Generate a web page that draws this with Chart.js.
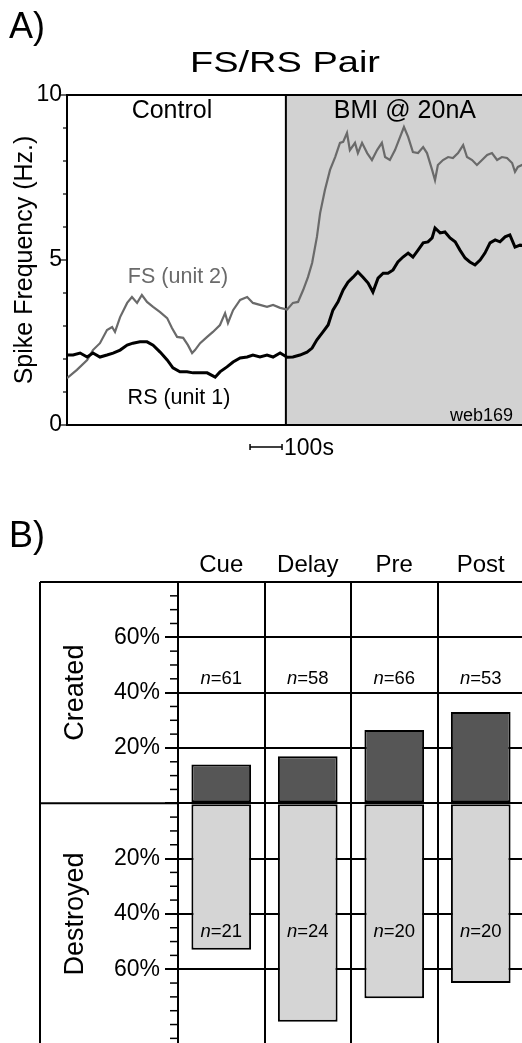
<!DOCTYPE html>
<html>
<head>
<meta charset="utf-8">
<script src="https://cdn.jsdelivr.net/npm/chart.js@4.4.1/dist/chart.umd.min.js"></script>
<style>
  html, body { margin:0; padding:0; background:#fff; width:522px; height:1043px; overflow:hidden; }
  canvas { position:absolute; left:0; }
  #c1 { top:0; }
  #c2 { top:500px; }
</style>
</head>
<body>
<canvas id="c1" width="540" height="470"></canvas>
<canvas id="c2" width="540" height="571"></canvas>
<script>
// ---------------- Panel A data ----------------
const bmiStart = 684;          // s, start of BMI application
const xMax = 1450;             // s
const yMaxHz = 10;
const yTickHz = [0, 5, 10];
const scaleBarStart = 572;     // s
const scaleBarLen = 100;       // s

const fsTime = [0,31,63,81,103,125,141,150,166,188,203,219,234,250,269,291,313,328,344,363,378,391,400,416,438,456,478,494,503,519,541,563,581,603,625,644,666,688,
  706,722,738,753,766,781,791,806,822,838,853,863,875,884,900,909,922,938,953,969,984,994,1009,1025,1041,1053,1066,1081,1097,1113,1125,1141,1150,1159,1175,1191,1206,1222,1238,1250,1266,1281,1297,1313,1328,1344,1359,1375,1391,1400,1409,1422,1450];
const fsHz = [1.42,1.67,1.97,2.27,2.48,2.88,2.97,2.82,3.27,3.70,3.88,3.70,3.94,3.73,3.58,3.42,3.24,2.94,2.67,2.64,2.42,2.18,2.27,2.48,2.67,2.82,3.03,3.39,3.09,3.48,3.79,3.88,3.70,3.64,3.58,3.64,3.55,3.50,
  3.70,3.73,4.09,4.48,4.91,5.70,6.42,7.12,7.73,8.12,8.55,8.58,8.85,8.33,8.55,8.24,8.55,8.24,8.03,8.33,8.55,8.12,8.03,8.33,8.73,9.03,8.73,8.27,8.24,8.42,8.24,7.73,7.42,7.88,8.03,8.12,8.09,8.24,8.48,8.12,8.03,7.88,8.03,8.18,8.24,8.03,8.12,8.09,7.94,7.67,7.82,7.88,7.80];

const rsTime = [0,19,41,63,81,103,125,144,166,188,206,228,250,269,291,313,331,353,375,394,416,438,463,478,500,519,541,563,581,603,625,644,666,688,
  706,728,750,766,781,800,816,831,847,863,878,894,909,925,941,956,972,988,1003,1019,1034,1050,1066,1081,1097,1113,1128,1141,1150,1166,1181,1197,1213,1228,1244,1259,1275,1291,1306,1322,1338,1353,1369,1384,1400,1416,1450];
const rsHz = [2.12,2.12,2.18,2.06,2.18,2.06,2.12,2.18,2.27,2.42,2.48,2.52,2.52,2.42,2.21,1.97,1.73,1.61,1.61,1.58,1.58,1.58,1.45,1.61,1.76,1.91,2.03,2.06,2.12,2.06,2.12,2.06,2.18,2.05,
  2.06,2.12,2.21,2.33,2.58,2.82,3.03,3.48,3.73,4.09,4.33,4.48,4.64,4.48,4.30,4.03,4.45,4.60,4.60,4.70,4.94,5.09,5.21,5.09,5.30,5.52,5.55,5.67,5.97,5.82,5.85,5.67,5.55,5.30,5.06,4.94,4.85,5.00,5.21,5.52,5.61,5.55,5.70,5.76,5.39,5.45,5.40];

// ---------------- Panel B data ----------------
const phases = ['Cue', 'Delay', 'Pre', 'Post'];
const createdPct = [14, 17, 26.5, 33];
const destroyedPct = [53, 79, 70.5, 65];
const createdN = [61, 58, 66, 53];
const destroyedN = [21, 24, 20, 20];
const pctTicks = [-60, -40, -20, 0, 20, 40, 60];

const FAM = '"Liberation Sans", Arial, Helvetica, sans-serif';

function txt(ctx, s, x, y, size, o = {}) {
  ctx.save();
  ctx.font = (o.italic ? 'italic ' : '') + size + 'px ' + FAM;
  ctx.fillStyle = o.color || '#000';
  ctx.textAlign = o.align || 'center';
  ctx.textBaseline = o.baseline || 'alphabetic';
  ctx.translate(x, y);
  if (o.rot) ctx.rotate(o.rot);
  if (o.sx) ctx.scale(o.sx, 1);
  ctx.fillText(s, 0, 0);
  ctx.restore();
}
function line(ctx, x1, y1, x2, y2, w, c) {
  ctx.save();
  ctx.beginPath();
  ctx.moveTo(x1, y1); ctx.lineTo(x2, y2);
  ctx.lineWidth = w; ctx.strokeStyle = c || '#000';
  ctx.stroke();
  ctx.restore();
}

// ---------------- Panel A chart ----------------
const panelA = {
  id: 'panelA',
  afterDraw(chart) {
    const ctx = chart.ctx, a = chart.chartArea;
    const xs = chart.scales.x, ys = chart.scales.y;
    line(ctx, a.left - 1, a.top, a.right, a.top, 2);
    line(ctx, a.left - 1, a.bottom, a.right, a.bottom, 2);
    for (let v = 0; v <= yMaxHz; v++) {
      const y = ys.getPixelForValue(v);
      const len = v % 5 === 0 ? 7 : 4;
      line(ctx, a.left - len, y, a.left, y, 1.2);
    }
    txt(ctx, 'A)', 9, 38, 36, { align: 'left' });
    txt(ctx, 'FS/RS Pair', 285, 72, 29, { sx: 1.31 });
    txt(ctx, 'Control', xs.getPixelForValue(328), ys.getPixelForValue(9.3), 25);
    txt(ctx, 'BMI @ 20nA', xs.getPixelForValue(1056), ys.getPixelForValue(9.3), 25);
    txt(ctx, 'FS (unit 2)', xs.getPixelForValue(347), ys.getPixelForValue(4.3), 21.5, { color: '#6a6a6a' });
    txt(ctx, 'RS (unit 1)', xs.getPixelForValue(350), ys.getPixelForValue(0.64), 21.5);
    txt(ctx, 'web169', xs.getPixelForValue(1394), ys.getPixelForValue(0.12), 18, { align: 'right' });
    const x1 = xs.getPixelForValue(scaleBarStart), x2 = xs.getPixelForValue(scaleBarStart + scaleBarLen);
    const yb = a.bottom + 22;
    line(ctx, x1, yb, x2, yb, 1.5);
    line(ctx, x1, yb - 3, x1, yb + 3, 1.5);
    line(ctx, x2, yb - 3, x2, yb + 3, 1.5);
    txt(ctx, '100s', x2 + 2, yb + 8, 23, { align: 'left' });
  }
};

new Chart(document.getElementById('c1'), {
  type: 'line',
  data: {
    datasets: [
      { label: 'BMI', data: [{ x: bmiStart, y: yMaxHz }, { x: xMax, y: yMaxHz }], fill: 'origin',
        backgroundColor: '#d2d2d2', borderWidth: 0, pointRadius: 0, order: 4 },
      { label: 'boundary', data: [{ x: bmiStart, y: 0 }, { x: bmiStart, y: yMaxHz }],
        borderColor: '#000', borderWidth: 2, pointRadius: 0, order: 3 },
      { label: 'FS (unit 2)', data: fsTime.map((t, i) => ({ x: t, y: fsHz[i] })),
        borderColor: '#6a6a6a', borderWidth: 2.2, pointRadius: 0, tension: 0, order: 2 },
      { label: 'RS (unit 1)', data: rsTime.map((t, i) => ({ x: t, y: rsHz[i] })),
        borderColor: '#000', borderWidth: 3, pointRadius: 0, tension: 0, order: 1 }
    ]
  },
  options: {
    responsive: false, animation: false, devicePixelRatio: 1,
    layout: { padding: { top: 95, bottom: 45, right: 9, left: 0 } },
    plugins: { legend: { display: false }, tooltip: { enabled: false } },
    scales: {
      x: { type: 'linear', min: 0, max: xMax, display: false },
      y: {
        min: 0, max: yMaxHz,
        afterFit: s => { s.width = 67; },
        afterBuildTicks: s => { s.ticks = yTickHz.map(v => ({ value: v })); },
        ticks: { font: { size: 23, family: FAM }, color: '#000', padding: 5 },
        grid: { display: true, drawOnChartArea: false, drawTicks: false },
        border: { display: true, color: '#000', width: 2 },
        title: { display: true, text: 'Spike Frequency (Hz.)', color: '#000',
                 font: { size: 25, family: FAM }, padding: { top: 10, bottom: 0 } }
      }
    }
  },
  plugins: [panelA]
});

// ---------------- Panel B chart ----------------
const panelB = {
  id: 'panelB',
  afterDraw(chart) {
    const ctx = chart.ctx, a = chart.chartArea;
    const xs = chart.scales.x, ys = chart.scales.y;
    const frameLeft = 40;
    line(ctx, frameLeft, a.top, a.right, a.top, 2);
    line(ctx, frameLeft, a.top, frameLeft, chart.height, 2);
    line(ctx, frameLeft, ys.getPixelForValue(0), a.left, ys.getPixelForValue(0), 2);
    for (let v = -90; v <= 80; v += 5) {
      if (pctTicks.includes(v) || v === 80) continue;
      const y = ys.getPixelForValue(v);
      line(ctx, a.left - 8, y, a.left, y, 1.5);
    }
    txt(ctx, 'Created', 76, ys.getPixelForValue(40), 27, { rot: -Math.PI / 2, baseline: 'middle' });
    txt(ctx, 'Destroyed', 76, ys.getPixelForValue(-40), 27, { rot: -Math.PI / 2, baseline: 'middle' });
    txt(ctx, 'B)', 9, 47, 36, { align: 'left' });
    const fs = 18.5;
    const drawN = (n, cx, y) => {
      ctx.save();
      ctx.font = 'italic ' + fs + 'px ' + FAM;
      const w1 = ctx.measureText('n').width;
      ctx.font = fs + 'px ' + FAM;
      const w2 = ctx.measureText('=' + n).width;
      ctx.restore();
      const x0 = cx - (w1 + w2) / 2;
      txt(ctx, 'n', x0, y, fs, { italic: true, align: 'left', baseline: 'middle' });
      txt(ctx, '=' + n, x0 + w1, y, fs, { align: 'left', baseline: 'middle' });
    };
    phases.forEach((p, i) => {
      const cx = xs.getPixelForValue(i);
      drawN(createdN[i], cx, ys.getPixelForValue(45));
      drawN(destroyedN[i], cx, ys.getPixelForValue(-46.5));
    });
  }
};

new Chart(document.getElementById('c2'), {
  type: 'bar',
  data: {
    labels: phases,
    datasets: [
      { label: 'Created', data: createdPct, backgroundColor: '#565656', borderColor: '#000',
        borderWidth: 2, borderSkipped: false },
      { label: 'Destroyed', data: destroyedPct.map(v => -v), backgroundColor: '#d5d5d5', borderColor: '#000',
        borderWidth: 2, borderSkipped: false }
    ]
  },
  options: {
    responsive: false, animation: false, devicePixelRatio: 1,
    layout: { padding: { left: 0, right: 16, top: 0, bottom: 8 } },
    datasets: { bar: { categoryPercentage: 1, barPercentage: 0.69 } },
    plugins: { legend: { display: false }, tooltip: { enabled: false } },
    scales: {
      x: {
        position: 'top', stacked: true, offset: true,
        afterFit: s => { s.height = 82; },
        grid: { offset: true, color: '#000', lineWidth: 2, drawTicks: false },
        border: { display: false },
        ticks: { font: { size: 24, family: FAM }, color: '#000', padding: 2 }
      },
      y: {
        stacked: true, min: -90, max: 80,
        afterFit: s => { s.width = 178; },
        afterBuildTicks: s => { s.ticks = pctTicks.map(v => ({ value: v })); },
        ticks: { font: { size: 23, family: FAM }, color: '#000', padding: 5,
                 callback: v => v === 0 ? '' : Math.abs(v) + '%' },
        grid: { color: '#000', lineWidth: 2, tickLength: 13, drawTicks: true },
        border: { display: true, color: '#000', width: 2 }
      }
    }
  },
  plugins: [panelB]
});
</script>
</body>
</html>
